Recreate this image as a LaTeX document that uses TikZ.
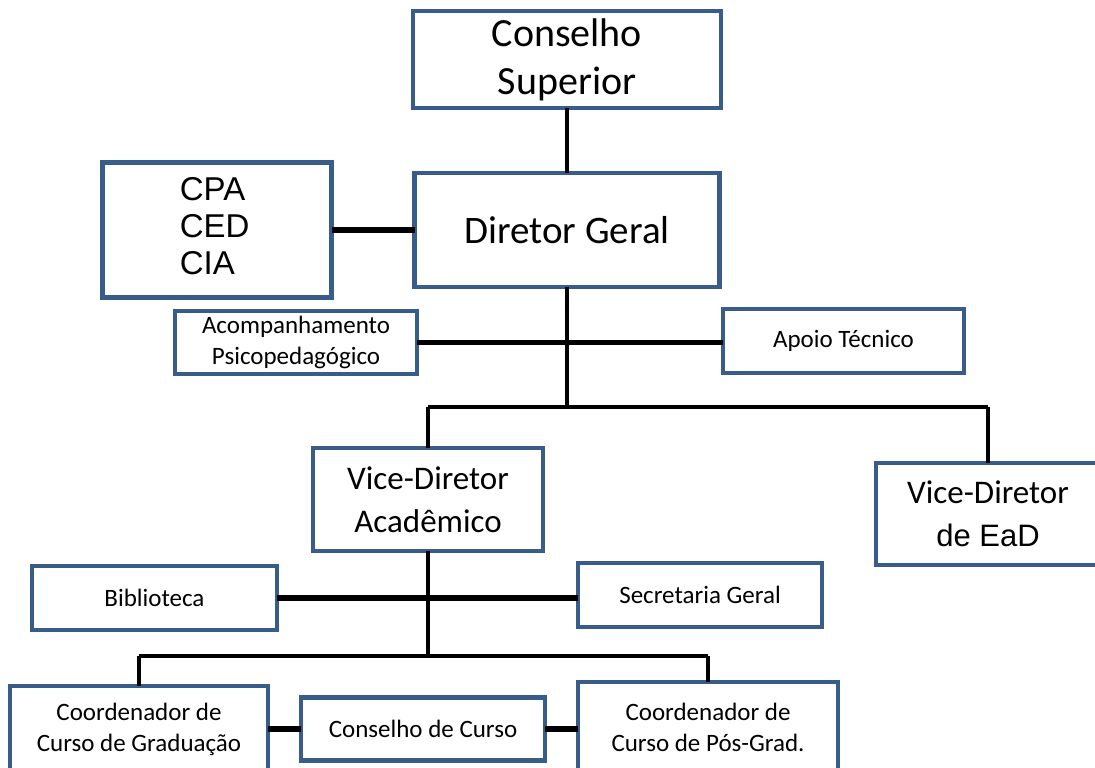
\documentclass[tikz,border=0pt]{standalone}
\usepackage{fontspec}
\setmainfont{Carlito}
\newfontfamily\arialfont{Liberation Sans}
\usetikzlibrary{positioning}
\definecolor{boxblue}{HTML}{385D8A}

\begin{document}
\begin{tikzpicture}[
   orgbox/.style={draw=boxblue, line width=2.2pt, fill=white, inner sep=0pt, outer sep=0pt, align=center},
   bigtext/.style={font=\fontsize{20}{24}\selectfont},
   vicetext/.style={font=\fontsize{16.5}{21.5}\selectfont},
   smalltext/.style={font=\fontsize{12.5}{15.5}\selectfont},
   link/.style={line width=1.9pt},
   sidelink/.style={line width=2.9pt}
]
   \useasboundingbox (0,0) rectangle (547.5pt,-383.5pt);
   % top of the chart
   \node[orgbox, bigtext, minimum width=154pt, minimum height=48.5pt] (conselho) at (283.5pt,-29.75pt)
   {Conselho \\ Superior};
   \node[orgbox, font=\fontsize{19.5}{23}\selectfont, minimum width=152.5pt, minimum height=57pt] (diretor) [below=32.5pt of conselho]
   {Diretor Geral};
   \node[orgbox, minimum width=114.5pt, minimum height=67.5pt] (comissoes) [left=41.5pt of diretor]
   {\raisebox{-2pt}{\arialfont\fontsize{16.5}{18.5}\selectfont
   \begin{tabular}{@{}l@{}}
   CPA \\ CED \\ CIA
   \end{tabular}}
   };
   \node[orgbox, smalltext, minimum width=121pt, minimum height=31.5pt] (acomp) [below left=12pt and -1.25pt of diretor]
   {Acompanhamento \\ Psicopedagógico};
   \node[orgbox, smalltext, minimum width=120.5pt, minimum height=32pt] (apoio) [below right=11pt and 1.75pt of diretor]
   {Apoio Técnico};
   % vice directors
   \coordinate[below=60pt of diretor] (bus);
   \node[orgbox, vicetext, minimum width=115pt, minimum height=51.5pt] (viceacad) [below=20.5pt of bus, xshift=-69.5pt]
   {Vice-Diretor \\ Acadêmico};
   \node[orgbox, vicetext, minimum width=112pt, minimum height=51pt] (viceead) [below=28pt of bus, xshift=210.5pt]
   {Vice-Diretor \\ {\arialfont\fontsize{15.5}{21.5}\selectfont de EaD}};
   \node[orgbox, smalltext, minimum width=122.5pt, minimum height=32pt] (biblioteca) [below left=7.5pt and 18pt of viceacad]
   {Biblioteca};
   \node[orgbox, smalltext, minimum width=122pt, minimum height=32pt] (secretaria) [below right=6pt and 17.5pt of viceacad]
   {Secretaria Geral};
   % course level
   \coordinate[below=52.5pt of viceacad] (bus2);
   \node[orgbox, smalltext, minimum width=129pt, minimum height=43pt] (coordgrad) [below=15pt of bus2, xshift=-144.5pt]
   {Coordenador de \\ Curso de Graduação};
   \node[orgbox, smalltext, minimum width=122pt, minimum height=31.5pt] (conscurso) [right=16.5pt of coordgrad]
   {Conselho de Curso};
   \node[orgbox, smalltext, minimum width=130pt, minimum height=45pt] (coordpos) [below=13pt of bus2, xshift=140pt]
   {Coordenador de \\ Curso de Pós-Grad.};

   \draw[link] (conselho) -- (diretor);
   \draw[sidelink] (comissoes.east) -- (comissoes.east -| diretor.west);
   \draw[link] (diretor) -- (bus);
   \draw[sidelink] (acomp.east) -- (acomp.east -| apoio.west);
   \draw[link] (viceacad.north) -- (viceacad.north |- bus);
   \draw[link] (viceead.north) -- (viceead.north |- bus);
   \draw[line width=2.4pt] (viceacad.north |- bus) -- (viceead.north |- bus);
   \draw[link] (viceacad) -- (bus2);
   \draw[sidelink] (biblioteca.east) -- (biblioteca.east -| secretaria.west);
   \draw[link] (coordgrad.north) -- (coordgrad.north |- bus2);
   \draw[link] (coordpos.north) -- (coordpos.north |- bus2);
   \draw[line width=2.4pt] (coordgrad.north |- bus2) -- (coordpos.north |- bus2);
   \draw[sidelink] (coordgrad.east) -- (conscurso.west);
   \draw[sidelink] (conscurso.east) -- (conscurso.east -| coordpos.west);
\end{tikzpicture}
\end{document}
